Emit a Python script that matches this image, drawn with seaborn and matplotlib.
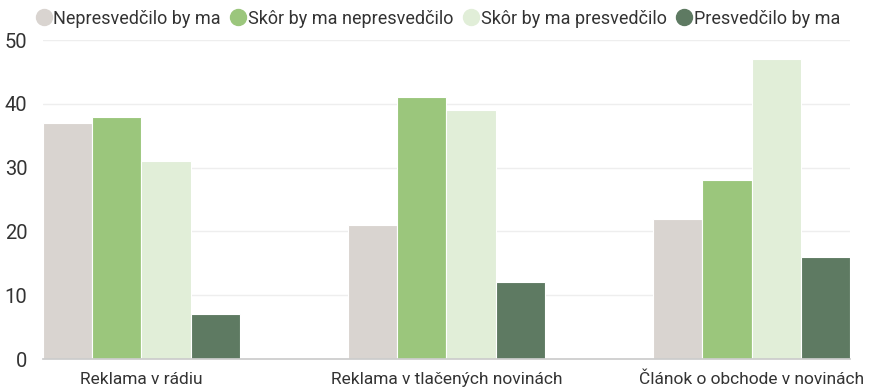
import matplotlib
matplotlib.use("Agg")
import matplotlib.pyplot as plt
from matplotlib.lines import Line2D
import seaborn as sns
import pandas as pd

categories = ["Reklama v rádiu", "Reklama v tlačených novinách", "Článok o obchode v novinách"]
series = ["Nepresvedčilo by ma", "Skôr by ma nepresvedčilo", "Skôr by ma presvedčilo", "Presvedčilo by ma"]
nepresvedcilo = [37, 21, 22]
skor_nepresvedcilo = [38, 41, 28]
skor_presvedcilo = [31, 39, 47]
presvedcilo = [7, 12, 16]
colors = ["#d9d4d0", "#9bc67c", "#e1eed8", "#5e7a62"]

rows = []
for name, vals in zip(series, [nepresvedcilo, skor_nepresvedcilo, skor_presvedcilo, presvedcilo]):
    for cat, v in zip(categories, vals):
        rows.append({"kategoria": cat, "odpoved": name, "hodnota": v})
df = pd.DataFrame(rows)

sns.set_theme(style="white")
plt.rcParams["font.family"] = ["Roboto", "DejaVu Sans"]

fig = plt.figure(figsize=(8.71, 3.88), dpi=100)
ax = fig.add_axes([0.049, 0.0747, 0.927, 0.8222])

group_w = 0.646
sns.barplot(data=df, x="kategoria", y="hodnota", hue="odpoved", order=categories,
            hue_order=series, palette=colors, width=group_w, dodge=True,
            edgecolor="white", linewidth=0.8, saturation=1, legend=False, ax=ax)

ax.set_xlim(-group_w / 2, 2 + group_w / 2)
ax.set_ylim(0, 50)
ax.set_yticks([0, 10, 20, 30, 40, 50])
ax.yaxis.grid(True, color="#eeeeee", linewidth=1)
ax.set_axisbelow(True)
for s in ["top", "right", "left"]:
    ax.spines[s].set_visible(False)
ax.spines["bottom"].set_color("#cccccc")
ax.set_xlabel("")
ax.set_ylabel("")
ax.tick_params(axis="x", length=0, pad=9, labelsize=12.5, labelcolor="#333333")
ax.tick_params(axis="y", length=0, pad=11, labelsize=14.5, labelcolor="#333333")

handles = [Line2D([0], [0], marker="o", linestyle="", markersize=11.5,
                  markerfacecolor=c, markeredgecolor=c) for c in colors]
fig.legend(handles, series, loc="center", bbox_to_anchor=(0.502, 0.952), ncol=4,
           frameon=False, fontsize=13, handletextpad=0.05, columnspacing=0.45,
           handlelength=1.0, labelcolor="#333333")

fig.savefig("out.png", dpi=100)
